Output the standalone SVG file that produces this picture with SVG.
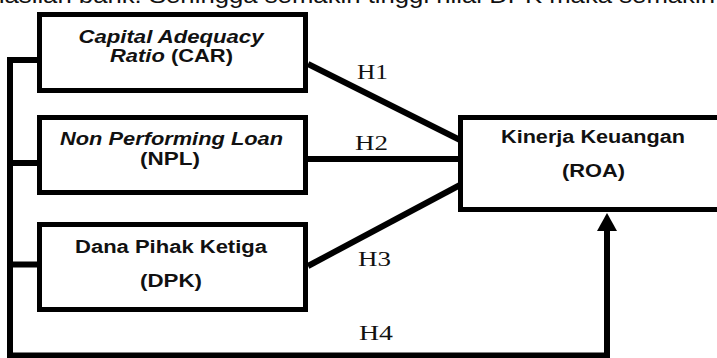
<svg xmlns="http://www.w3.org/2000/svg" width="717" height="358" viewBox="0 0 717 358">
<style>
.box{fill:#fff;stroke:#000;stroke-width:5}
.lbl{font-family:"Liberation Sans",Arial,sans-serif;font-weight:bold;font-size:18px;fill:#111;text-anchor:middle}
.it{font-style:italic}
.h{font-family:"Liberation Serif","Times New Roman",serif;font-size:20px;fill:#111}
.ln{stroke:#000;stroke-width:6;fill:none}
</style>
<defs>
<marker id="arr" markerWidth="4" markerHeight="4" refX="3" refY="2" orient="auto" markerUnits="strokeWidth">
<path d="M0,0 L3,2 L0,4 Z" fill="#000"/>
</marker>
</defs>
<rect width="717" height="358" fill="#fff"/>
<text x="-67" y="2.5" font-family="Liberation Sans,Arial,sans-serif" font-size="22" fill="#111" textLength="782" lengthAdjust="spacingAndGlyphs">penghasilan bank. Sehingga semakin tinggi nilai DPK maka semakin</text>
<g id="connectors">
<path class="ln" d="M308,64 L460,140"/>
<path class="ln" d="M308,159 L460,159"/>
<path class="ln" d="M308,266 L460,185"/>
<path class="ln" d="M37,60 L10,60 L10,355.5 L607,355.5 L607,231" stroke-linejoin="miter"/>
<path class="ln" d="M10,163 L37,163 M10,264.5 L37,264.5"/>
<path d="M597,231 L607,213 L617,231 Z" fill="#000"/>
<text class="h" x="357" y="79" textLength="31" lengthAdjust="spacingAndGlyphs">H1</text>
<text class="h" x="355" y="150" textLength="33" lengthAdjust="spacingAndGlyphs">H2</text>
<text class="h" x="358" y="266" textLength="33" lengthAdjust="spacingAndGlyphs">H3</text>
<text class="h" x="359" y="340" textLength="34" lengthAdjust="spacingAndGlyphs">H4</text>
</g>
<g id="car">
<rect class="box" x="39.5" y="14.5" width="266" height="76"/>
<text class="lbl it" x="171" y="43" textLength="185" lengthAdjust="spacingAndGlyphs">Capital Adequacy</text>
<text class="lbl" x="171.5" y="62" textLength="123" lengthAdjust="spacingAndGlyphs"><tspan class="it">Ratio</tspan> (CAR)</text>
</g>
<g id="npl">
<rect class="box" x="39.5" y="117.5" width="266" height="75"/>
<text class="lbl it" x="171.5" y="145" textLength="223" lengthAdjust="spacingAndGlyphs">Non Performing Loan</text>
<text class="lbl" x="170" y="165" textLength="60" lengthAdjust="spacingAndGlyphs">(NPL)</text>
</g>
<g id="dpk">
<rect class="box" x="39.5" y="224.5" width="266" height="85"/>
<text class="lbl" x="171" y="253" textLength="192" lengthAdjust="spacingAndGlyphs">Dana Pihak Ketiga</text>
<text class="lbl" x="171" y="287" textLength="62" lengthAdjust="spacingAndGlyphs">(DPK)</text>
</g>
<g id="roa">
<rect class="box" x="460.5" y="117.5" width="300" height="92"/>
<text class="lbl" x="593" y="143" textLength="184" lengthAdjust="spacingAndGlyphs">Kinerja Keuangan</text>
<text class="lbl" x="593.5" y="177" textLength="63" lengthAdjust="spacingAndGlyphs">(ROA)</text>
</g>
</svg>
